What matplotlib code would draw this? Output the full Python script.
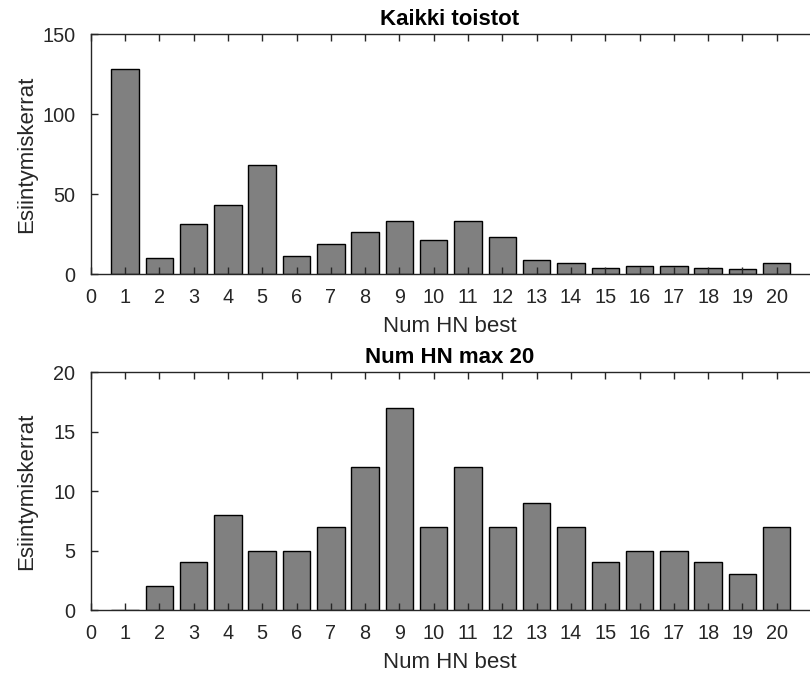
import matplotlib
matplotlib.use("Agg")
import matplotlib.pyplot as plt
import numpy as np

plt.rcParams['font.family'] = ['Liberation Sans', 'DejaVu Sans']

categories = list(range(1, 21))
all_counts = [128, 10, 31, 43, 68, 11, 19, 26, 33, 21, 33, 23, 9, 7, 4, 5, 5, 4, 3, 7]
max20_counts = [0, 2, 4, 8, 5, 5, 7, 12, 17, 7, 12, 7, 9, 7, 4, 5, 5, 4, 3, 7]
xticks = list(range(0, 21))
yticks_top = [0, 50, 100, 150]
yticks_bottom = [0, 5, 10, 15, 20]

fig = plt.figure(figsize=(8.1, 6.73), dpi=100)
W, H = 810, 673
left_px, right_px = 90.7, 809
left = left_px / W
width = (right_px - left_px) / W
ax1 = fig.add_axes([left, 1 - 274 / H, width, (274 - 34.3) / H])
ax2 = fig.add_axes([left, 1 - 610 / H, width, (610 - 372.3) / H])

axcol = '#262626'
tick_fs = 14.3
lab_fs = 16

def style(ax, vals, yt, title):
    ax.bar(categories, vals, width=0.8, color='#808080', edgecolor='black', linewidth=1.0, zorder=1)
    ax.set_xlim(0, 20.94)
    ax.set_ylim(yt[0], yt[-1])
    ax.set_xticks(xticks)
    ax.set_yticks(yt)
    ax.tick_params(axis='both', direction='in', length=5, width=1, colors=axcol,
                   labelsize=tick_fs, top=True, right=False, labelcolor=axcol)
    ax.tick_params(axis='x', pad=10)
    ax.tick_params(axis='y', pad=11)
    for s in ['left', 'bottom', 'top']:
        ax.spines[s].set_color(axcol)
        ax.spines[s].set_linewidth(1)
        ax.spines[s].set_zorder(5)
    ax.spines['right'].set_visible(False)
    ax.set_axisbelow(False)
    ax.set_xlabel('Num HN best', fontsize=lab_fs, color=axcol)
    ax.set_ylabel('Esiintymiskerrat', fontsize=lab_fs, color=axcol)
    bbox_h = ax.get_position().height * H
    ax.xaxis.set_label_coords(0.5, -41.5 / bbox_h)
    ax.yaxis.set_label_coords((37 - left_px) / (right_px - left_px), 0.5)
    ax.set_title(title, fontsize=lab_fs, fontweight='bold', color='black', pad=6.5)

style(ax1, all_counts, yticks_top, 'Kaikki toistot')
style(ax2, max20_counts, yticks_bottom, 'Num HN max 20')

fig.savefig('out.png', dpi=100)
